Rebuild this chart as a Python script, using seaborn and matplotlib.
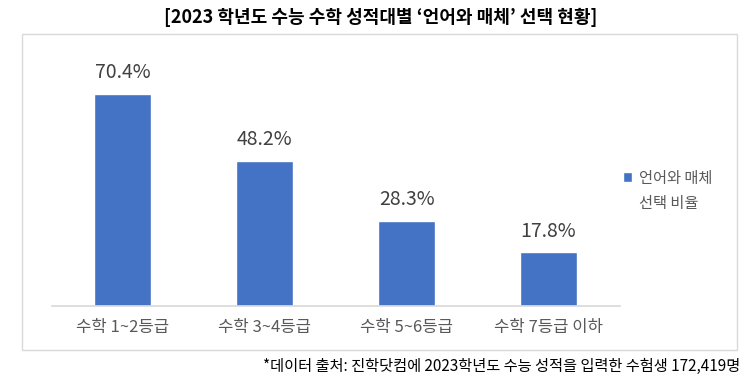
import matplotlib
matplotlib.use("Agg")
import matplotlib.pyplot as plt
import seaborn as sns
import pandas as pd
from matplotlib.patches import Rectangle

# 데이터
구간 = ["수학 1~2등급", "수학 3~4등급", "수학 5~6등급", "수학 7등급 이하"]
선택비율 = [70.4, 48.2, 28.3, 17.8]
계열명_1 = "언어와 매체"
계열명_2 = "선택 비율"

sns.set_theme(style="white")
plt.rcParams['font.family'] = ['Noto Sans CJK KR', 'DejaVu Sans']

df = pd.DataFrame({"구간": 구간, "비율": 선택비율})

fig = plt.figure(figsize=(7.5, 3.83), dpi=100)
ax = fig.add_axes([0.069, 0.201, 0.757, 0.629])

sns.barplot(data=df, x="구간", y="비율", color="#4472C4", width=0.4,
            saturation=1, ax=ax, label=계열명_1)

for i, v in enumerate(선택비율):
    ax.text(i, v + 3.6, f"{v}%", ha="center", va="bottom",
            fontsize=14, color="#404040")

ax.set_ylim(0, 80)
ax.set_xlim(-0.5, 3.5)
ax.set_xlabel("")
ax.set_ylabel("")
ax.set_yticks([])
ax.tick_params(axis="x", length=0, pad=9, labelsize=12, labelcolor="#595959")
for s in ["top", "right", "left"]:
    ax.spines[s].set_visible(False)
ax.spines["bottom"].set_color("#D9D9D9")

leg = ax.legend(loc="center left", bbox_to_anchor=(1.0, 0.531), frameon=False,
                fontsize=11, handlelength=0.6, handleheight=0.6,
                handletextpad=0.45, borderaxespad=0, borderpad=0.2,
                labelcolor="#595959")

# 범례 둘째 줄
fig.canvas.draw()
bb = leg.get_texts()[0].get_window_extent()
fig.text(bb.x0 / 750, (bb.y0 + bb.y1) / 2 / 383 - 25 / 383, 계열명_2,
         ha="left", va="center", fontsize=11, color="#595959")

# 차트 영역 테두리
fig.patches.append(Rectangle((22 / 750, 1 - 350 / 383), 715 / 750, 316 / 383,
                             transform=fig.transFigure, fill=False,
                             edgecolor="#D9D9D9", linewidth=1))

fig.text(0.508, 1 - 17 / 383, "[2023 학년도 수능 수학 성적대별 ‘언어와 매체’ 선택 현황]",
         ha="center", va="center", fontsize=13, fontweight="bold", color="#000000")
fig.text(740 / 750, 1 - 366 / 383,
         "*데이터 출처: 진학닷컴에 2023학년도 수능 성적을 입력한 수험생 172,419명",
         ha="right", va="center", fontsize=11, color="#000000")

fig.savefig("out.png", dpi=100)
plt.close(fig)
